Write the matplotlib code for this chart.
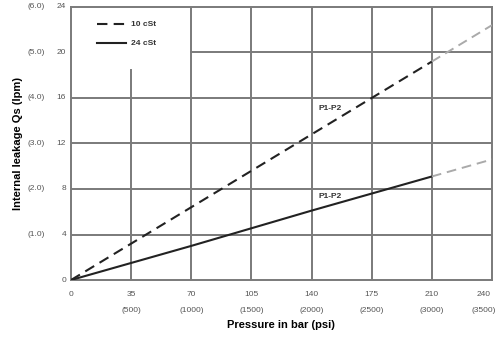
# Internal leakage vs pressure chart
import matplotlib
matplotlib.use('Agg')
from matplotlib import pyplot as plt
from matplotlib import transforms

plt.rcParams['font.family'] = ['Liberation Sans', 'DejaVu Sans']

# x ticks: equally spaced, last one labelled 240
x_ticks = [0, 35, 70, 105, 140, 175, 210, 240]
x_labels = ['0', '35', '70', '105', '140', '175', '210', '240']
psi_labels = ['', '(500)', '(1000)', '(1500)', '(2000)', '(2500)', '(3000)', '(3500)']
y_ticks = [0, 4, 8, 12, 16, 20, 24]
lpm_labels = ['', '(1.0)', '(2.0)', '(3.0)', '(4.0)', '(5.0)', '(6.0)']

# 10 cSt
p10 = [0, 70, 175, 210]
q10 = [0, 6.4, 16.0, 19.2]
p10_ext = [210, 245]
q10_ext = [19.2, 22.4]
# 24 cSt
p24 = [0, 70, 140, 210]
q24 = [0, 3.0, 6.1, 9.1]
p24_ext = [210, 245]
q24_ext = [9.1, 10.6]

fig = plt.figure(figsize=(5, 3.47), dpi=100)
ax = fig.add_axes([0.142, 0.193, 0.842, 0.787])
ax.set_xlim(0, 245)
ax.set_ylim(0, 24)

gc = '#7a7a7a'
# grid
for x in x_ticks[1:-1]:
    top = 18.5 if x == 35 else 24
    ax.plot([x, x], [0, top], color=gc, lw=1.4, zorder=1)
for y in [4, 8, 12, 16]:
    ax.axhline(y, color=gc, lw=1.4, zorder=1)
ax.plot([70, 245], [20, 20], color=gc, lw=1.4, zorder=1)
for s in ax.spines.values():
    s.set_color(gc)
    s.set_linewidth(1.4)

ax.plot(p10, q10, color='#222222', lw=1.5, ls=(0, (5, 3)), zorder=3)
ax.plot(p10_ext, q10_ext, color='#aaaaaa', lw=1.4, ls=(0, (5, 3)), zorder=3)
ax.plot(p24, q24, color='#222222', lw=1.5, zorder=3)
ax.plot(p24_ext, q24_ext, color='#aaaaaa', lw=1.4, ls=(0, (5, 3)), zorder=3)

ax.text(144, 14.9, 'P1-P2', fontsize=6, fontweight='bold', color='#333333')
ax.text(144, 7.2, 'P1-P2', fontsize=6, fontweight='bold', color='#333333')

# legend
ax.plot([15, 32], [22.5, 22.5], color='#222222', lw=1.5, ls=(0, (5, 3)))
ax.plot([15, 32], [20.8, 20.8], color='#222222', lw=1.5)
ax.text(35, 22.5, '10 cSt', fontsize=6, fontweight='bold', va='center', color='#333333')
ax.text(35, 20.8, '24 cSt', fontsize=6, fontweight='bold', va='center', color='#333333')

ax.set_xticks([])
ax.set_yticks([])
tc = '#555555'
tx = transforms.blended_transform_factory(ax.transData, fig.transFigure)
for x, a, b in zip(x_ticks, x_labels, psi_labels):
    ax.text(x, 1 - 295 / 347, a, transform=tx, ha='center', va='center', fontsize=6, color=tc)
    ax.text(x, 1 - 310 / 347, b, transform=tx, ha='center', va='center', fontsize=6, color=tc)
ty = transforms.blended_transform_factory(fig.transFigure, ax.transData)
for y, b in zip(y_ticks, lpm_labels):
    ax.text(66 / 500, y, str(y), transform=ty, ha='right', va='center', fontsize=6, color=tc)
    ax.text(45 / 500, y, b, transform=ty, ha='right', va='center', fontsize=6, color=tc)

fig.text(281 / 500, 1 - 325 / 347, 'Pressure in bar (psi)', ha='center', va='center',
         fontsize=8, fontweight='bold')
fig.text(18 / 500, 1 - 143 / 347, 'Internal leakage Qs (lpm)', ha='center', va='center',
         fontsize=8, fontweight='bold', rotation=90)

fig.savefig('out.png', dpi=100, facecolor='white')
